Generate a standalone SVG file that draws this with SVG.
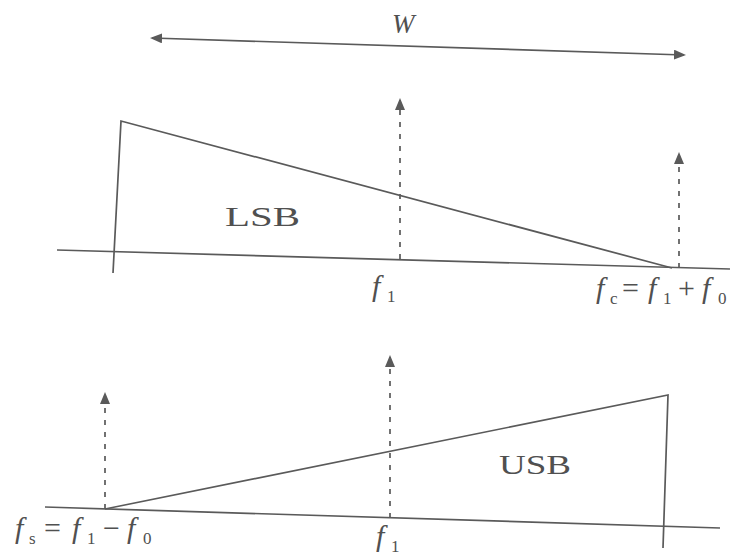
<svg xmlns="http://www.w3.org/2000/svg" width="744" height="559" viewBox="0 0 744 559">
<style>
.ln{stroke:#5a5a5a;stroke-width:1.7;fill:none}
.dash{stroke:#5a5a5a;stroke-width:1.7;fill:none;stroke-dasharray:5,7}
.t{font-family:"Liberation Serif",serif;fill:#505050}
.it{font-style:italic}
.sub{font-size:17px;font-style:normal}
.op{font-style:normal}
</style>
<defs>
<marker id="ah" markerWidth="12" markerHeight="12" refX="10" refY="5" orient="auto" markerUnits="userSpaceOnUse">
<path d="M0,0 L12,5 L0,10 Z" fill="#5a5a5a"/>
</marker>
<marker id="ahs" markerWidth="12" markerHeight="12" refX="10" refY="5" orient="auto-start-reverse" markerUnits="userSpaceOnUse">
<path d="M0,0 L12,5 L0,10 Z" fill="#5a5a5a"/>
</marker>
</defs>
<rect width="744" height="559" fill="#fff"/>
<g id="connectors">
<line class="ln" x1="152" y1="38" x2="684" y2="55" marker-start="url(#ahs)" marker-end="url(#ahs)"/>
<line class="dash" x1="400" y1="259" x2="400" y2="100" marker-end="url(#ah)"/>
<line class="dash" x1="679" y1="268" x2="679" y2="154" marker-end="url(#ah)"/>
<line class="dash" x1="105" y1="509" x2="105" y2="394" marker-end="url(#ah)"/>
<line class="dash" x1="390" y1="518" x2="390" y2="357" marker-end="url(#ah)"/>
</g>
<g id="width-label">
<text class="t it" x="392" y="33" font-size="27">W</text>
</g>
<g id="lsb-panel">
<line class="ln" x1="57" y1="250" x2="730" y2="269"/>
<polyline class="ln" points="113,273 121,121 672,268"/>
<text class="t" x="225" y="226" font-size="28" textLength="75" lengthAdjust="spacingAndGlyphs">LSB</text>
<text class="t it" x="372" y="296" font-size="30">f<tspan class="sub" x="387" y="302">1</tspan></text>
<text class="t it" x="596" y="298" font-size="30">f<tspan class="sub" x="610" y="304">c</tspan><tspan class="op" x="622" y="298">=</tspan><tspan x="648" y="298">f</tspan><tspan class="sub" x="663" y="304">1</tspan><tspan class="op" x="678" y="298">+</tspan><tspan x="702" y="298">f</tspan><tspan class="sub" x="718" y="304">0</tspan></text>
</g>
<g id="usb-panel">
<line class="ln" x1="45" y1="507" x2="720" y2="528"/>
<polyline class="ln" points="105,509 668,395 663,548"/>
<text class="t" x="499" y="474" font-size="28" textLength="72" lengthAdjust="spacingAndGlyphs">USB</text>
<text class="t it" x="376" y="546" font-size="30">f<tspan class="sub" x="391" y="552">1</tspan></text>
<text class="t it" x="15" y="538" font-size="30">f<tspan class="sub" x="29" y="544">s</tspan><tspan class="op" x="44" y="538">=</tspan><tspan x="72" y="538">f</tspan><tspan class="sub" x="87" y="544">1</tspan><tspan class="op" x="103" y="538">−</tspan><tspan x="127" y="538">f</tspan><tspan class="sub" x="143" y="544">0</tspan></text>
</g>
</svg>
